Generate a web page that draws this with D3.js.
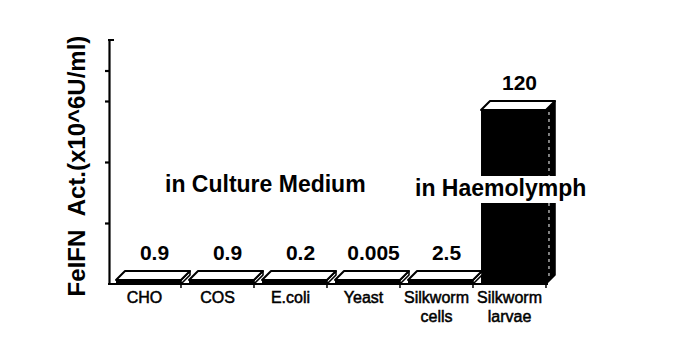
<!DOCTYPE html>
<html lang="en">
<head>
  <meta charset="UTF-8">
  <title>FeIFN activity by expression system</title>
  <script src="https://d3js.org/d3.v7.min.js"></script>
  <style>
    body { margin: 0; background: #fff; }
    text { font-family: "Liberation Sans", Arial, Helvetica, sans-serif; fill: #000; }
  </style>
</head>
<body>
  <script>
    // data
    const categories = ['CHO', 'COS', 'E.coli', 'Yeast', 'Silkworm cells', 'Silkworm larvae'];
    const labelLines = [['CHO'], ['COS'], ['E.coli'], ['Yeast'], ['Silkworm', 'cells'], ['Silkworm', 'larvae']];
    const values = [0.9, 0.9, 0.2, 0.005, 2.5, 120];
    const valueLabels = ['0.9', '0.9', '0.2', '0.005', '2.5', '120'];
    const yTicks = [40, 80, 120, 140];
    const yMax = 160;
    const yTitle = 'FeIFN\u00a0\u00a0Act.(x10^6U/ml)';
    const notes = ['in Culture Medium', 'in Haemolymph'];

    const width = 690, height = 339;
    const svg = d3.select('body').append('svg')
      .attr('width', width)
      .attr('height', height);

    const y = d3.scaleLinear().domain([0, yMax]).range([284, 40]);
    const x = d3.scaleBand().domain(categories)
      .range([112, 550])
      .paddingInner(0.11)
      .paddingOuter(0.055);

    const y0 = y(0);
    const dx = 9, dy = 9, minH = 4; // fake 3d depth
    const bw = x.bandwidth();

    const rows = categories.map((c, i) => {
      const x0 = x(c);
      const frontTop = Math.min(y0 - minH, y(values[i]) + dy);
      return { c, i, x0, frontTop, tall: y0 - frontTop > 20 };
    });

    // y axis
    const yAxis = svg.append('g')
      .attr('transform', 'translate(109,0)')
      .call(d3.axisLeft(y).tickValues(yTicks).tickSize(4).tickSizeOuter(0).tickFormat(''));
    yAxis.selectAll('path, line').attr('stroke', '#000').attr('stroke-width', 2.2);
    yAxis.append('line')
      .attr('x1', -1).attr('x2', 5)
      .attr('y1', y(yMax)).attr('y2', y(yMax))
      .attr('stroke', '#000').attr('stroke-width', 2);

    svg.append('text')
      .attr('transform', `translate(85,${(y(0) + y(yMax)) / 2 + 4}) rotate(-90)`)
      .attr('text-anchor', 'middle')
      .attr('font-size', 24)
      .attr('font-weight', 'bold')
      .text(yTitle);

    // bars
    const bars = svg.append('g');
    bars.selectAll('.front').data(rows).enter().append('rect')
      .attr('x', d => d.x0)
      .attr('y', d => d.frontTop)
      .attr('width', bw)
      .attr('height', d => y0 - d.frontTop)
      .attr('fill', '#000');

    bars.selectAll('.side').data(rows).enter().append('polygon')
      .attr('points', d => [
        [d.x0 + bw, d.frontTop], [d.x0 + bw + dx, d.frontTop - dy],
        [d.x0 + bw + dx, y0 - dy], [d.x0 + bw, y0]].join(' '))
      .attr('fill', d => d.tall ? '#000' : '#fff')
      .attr('stroke', '#000')
      .attr('stroke-width', 1.6)
      .attr('stroke-linejoin', 'round');

    bars.selectAll('.side-hi').data(rows.filter(d => d.tall)).enter().append('line')
      .attr('x1', d => d.x0 + bw + 3).attr('x2', d => d.x0 + bw + 3)
      .attr('y1', d => d.frontTop + 2).attr('y2', y0 - 6)
      .attr('stroke', '#fff')
      .attr('stroke-width', 1)
      .attr('stroke-dasharray', '3,4');

    bars.selectAll('.top').data(rows).enter().append('polygon')
      .attr('points', d => [
        [d.x0, d.frontTop], [d.x0 + dx, d.frontTop - dy],
        [d.x0 + bw + dx, d.frontTop - dy], [d.x0 + bw, d.frontTop]].join(' '))
      .attr('fill', '#fff')
      .attr('stroke', '#000')
      .attr('stroke-width', 2)
      .attr('stroke-linejoin', 'round');

    // value labels
    svg.selectAll('.val').data(rows).enter().append('text')
      .attr('x', d => d.x0 + bw / 2 + 6)
      .attr('y', d => d.frontTop - dy - 11)
      .attr('text-anchor', 'middle')
      .attr('font-size', 21)
      .attr('font-weight', 'bold')
      .text(d => valueLabels[d.i]);

    // x axis
    svg.append('line')
      .attr('x1', 108).attr('x2', x(categories[categories.length - 1]) + bw + 2)
      .attr('y1', y0).attr('y2', y0)
      .attr('stroke', '#000').attr('stroke-width', 2.2);
    svg.selectAll('.xtick').data(rows).enter().append('line')
      .attr('x1', d => d.x0 + bw).attr('x2', d => d.x0 + bw)
      .attr('y1', y0).attr('y2', y0 + 4)
      .attr('stroke', '#000').attr('stroke-width', 1.5);

    // category labels, two-line ones wrapped with tspans
    const xl = svg.selectAll('.xlab').data(rows).enter().append('text')
      .attr('transform', d => `translate(${d.x0 + bw / 2 - 4},303)`)
      .attr('text-anchor', 'middle')
      .attr('font-size', 16)
      .attr('stroke', '#000')
      .attr('stroke-width', 0.5);
    xl.selectAll('tspan').data(d => labelLines[d.i]).enter().append('tspan')
      .attr('x', 0)
      .attr('dy', (t, j) => j ? 18.5 : 0)
      .text(t => t);

    // annotations
    svg.append('text')
      .attr('x', 165).attr('y', 192)
      .attr('font-size', 23)
      .attr('font-weight', 'bold')
      .text(notes[0]);

    const last = rows[rows.length - 1];
    svg.append('rect')
      .attr('x', last.x0 - 2).attr('y', 176)
      .attr('width', bw + dx + 4).attr('height', 27)
      .attr('fill', '#fff');
    svg.append('text')
      .attr('x', 415).attr('y', 196)
      .attr('font-size', 23)
      .attr('font-weight', 'bold')
      .text(notes[1]);
  </script>
</body>
</html>
